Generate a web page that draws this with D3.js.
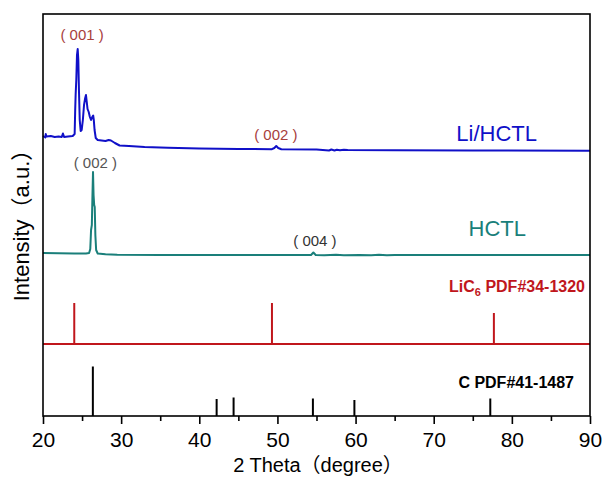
<!DOCTYPE html>
<html><head><meta charset="utf-8">
<script src="https://cdn.jsdelivr.net/npm/d3@7"></script>
<style>body{margin:0;background:#fff}svg{display:block}</style>
</head><body><div id="chart"></div>
<script>
// ---- data ----
const xTicks = [20,30,40,50,60,70,80,90];
const xMinor = [25,35,45,55,65,75,85];
// Li/HCTL pattern [2theta, relative intensity]
const liHCTL = [[20.0,140],[20.3,125],[20.35,160],[20.45,135],[21.0,140],[21.5,130],[22.0,135],[22.4,130],[22.55,165],[22.7,130],[23.2,135],[23.8,140],[24.05,160],[24.12,400],[24.18,560],[24.26,700],[24.35,950],[24.44,1010],[24.52,900],[24.6,600],[24.7,300],[24.82,190],[24.95,200],[25.1,300],[25.25,450],[25.4,520],[25.5,550],[25.6,480],[25.7,410],[25.85,380],[26.0,330],[26.15,300],[26.3,330],[26.42,345],[26.5,300],[26.6,200],[26.75,120],[27.0,100],[27.5,95],[28.0,90],[28.4,100],[28.7,95],[29.2,70],[29.8,45],[31,40],[33,30],[36,22],[40,15],[45,10],[49.3,8],[49.6,20],[49.85,40],[50.1,20],[50.5,8],[55,5],[56.6,-5],[56.9,5],[57.3,-5],[57.6,3],[58.0,-3],[58.5,2],[59,0],[65,-3],[75,-5],[90,-7]];
// HCTL pattern
const hctl = [[20,20],[22,18],[24,15],[25.5,15],[25.9,20],[26.05,60],[26.15,250],[26.25,300],[26.33,600],[26.4,830],[26.47,600],[26.55,500],[26.62,480],[26.7,200],[26.8,50],[27.0,15],[28,8],[29.5,2],[35,0],[45,0],[54.3,0],[54.6,25],[54.9,0],[56,-3],[57.5,2],[58.5,-2],[60.5,1],[62,-2],[63,2],[64,-2],[65,0],[90,0]];
// reference sticks
const lic6Sticks = [[24.0,410],[49.3,410],[77.7,310]];
const cSticks = [[26.38,495],[42.22,170],[44.39,185],[54.54,175],[59.85,160],[77.24,175]];
const offsets = {liHCTL:2660, hctl:1610, lic6:720, c:0};

const W=606,H=478;
const svg = d3.select("#chart").append("svg").attr("width",W).attr("height",H);
const x = d3.scaleLinear().domain([20,90]).range([43,590]);
const y = d3.scaleLinear().domain([0,4020]).range([416,14]);
const FONT = "'Liberation Sans', Arial, 'Noto Sans CJK SC', sans-serif";

const blue="#1010c8", teal="#1a7f7a", red="#c0161c";

const line = off => d3.line().x(d=>x(d[0])).y(d=>y(d[1]+off));

svg.append("path").datum(liHCTL).attr("d",line(offsets.liHCTL)).attr("fill","none").attr("stroke",blue).attr("stroke-width",2).attr("stroke-linejoin","round");
svg.append("path").datum(hctl).attr("d",line(offsets.hctl)).attr("fill","none").attr("stroke",teal).attr("stroke-width",2).attr("stroke-linejoin","round");

// LiC6 baseline + sticks
svg.append("line").attr("x1",x(20)).attr("x2",x(90)).attr("y1",y(offsets.lic6)).attr("y2",y(offsets.lic6)).attr("stroke",red).attr("stroke-width",2);
svg.selectAll(".ls").data(lic6Sticks).join("line").attr("x1",d=>x(d[0])).attr("x2",d=>x(d[0])).attr("y1",y(offsets.lic6)).attr("y2",d=>y(offsets.lic6+d[1])).attr("stroke",red).attr("stroke-width",2);
svg.selectAll(".cs").data(cSticks).join("line").attr("x1",d=>x(d[0])).attr("x2",d=>x(d[0])).attr("y1",y(offsets.c)).attr("y2",d=>y(offsets.c+d[1])).attr("stroke","#000").attr("stroke-width",2);

// frame
svg.append("rect").attr("x",x(20)).attr("y",y(4020)).attr("width",x(90)-x(20)).attr("height",y(0)-y(4020)).attr("fill","none").attr("stroke","#000").attr("stroke-width",1.6);

// axes
const ax = svg.append("g").attr("transform",`translate(0,${y(0)})`).call(d3.axisBottom(x).tickValues(xTicks).tickSize(8).tickPadding(8).tickSizeOuter(0));
ax.select(".domain").remove();
ax.selectAll("line").attr("stroke-width",1.6);
ax.selectAll("text").attr("font-family",FONT).attr("font-size",21).attr("fill","#000");
const axm = svg.append("g").attr("transform",`translate(0,${y(0)})`).call(d3.axisBottom(x).tickValues(xMinor).tickSize(5).tickFormat("").tickSizeOuter(0));
axm.select(".domain").remove();
axm.selectAll("line").attr("stroke-width",1.6);

// axis titles
svg.append("text").attr("x",318).attr("y",472).attr("text-anchor","middle").attr("font-family",FONT).attr("font-size",20).text("2 Theta（degree）");
svg.append("text").attr("transform","translate(29,220) rotate(-90)").attr("text-anchor","middle").attr("font-family",FONT).attr("font-size",22).text("Intensity（a.u.）");

// series labels
svg.append("text").attr("x",x(90)-53).attr("y",141).attr("text-anchor","end").attr("font-family",FONT).attr("font-size",22).attr("fill",blue).text("Li/HCTL");
svg.append("text").attr("x",x(90)-64).attr("y",236).attr("text-anchor","end").attr("font-family",FONT).attr("font-size",22).attr("fill",teal).text("HCTL");
const lt = svg.append("text").attr("x",x(90)-5).attr("y",292).attr("text-anchor","end").attr("font-family",FONT).attr("font-size",16).attr("font-weight","bold").attr("fill",red);
lt.append("tspan").text("LiC");
lt.append("tspan").attr("font-size",11).attr("dy",4).text("6");
lt.append("tspan").attr("dy",-4).text(" PDF#34-1320");
svg.append("text").attr("x",x(90)-16).attr("y",388).attr("text-anchor","end").attr("font-family",FONT).attr("font-size",16).attr("font-weight","bold").attr("fill","#000").text("C PDF#41-1487");

// peak labels
const pk = (t,th,py,col)=>svg.append("text").attr("x",x(th)).attr("y",py).attr("text-anchor","middle").attr("font-family",FONT).attr("font-size",15).attr("fill",col).text(t);
pk("( 001 )",25.0,y(offsets.liHCTL+1010)-9,"#a8403c");
pk("( 002 )",49.8,y(offsets.liHCTL+40)-6,"#a8403c");
pk("( 002 )",26.7,y(offsets.hctl+830)-4,"#555");
pk("( 004 )",54.8,y(offsets.hctl+25)-7,"#333");
</script></body></html>
